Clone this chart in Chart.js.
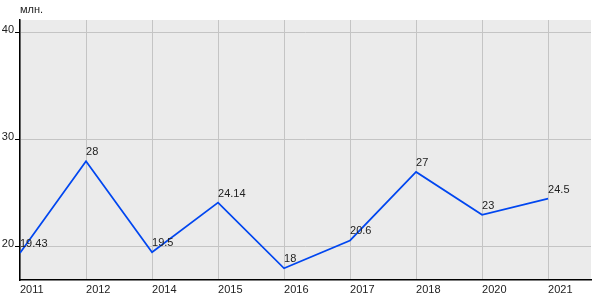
<!DOCTYPE html>
<html><head><meta charset="utf-8">
<script src="https://cdn.jsdelivr.net/npm/chart.js@4/dist/chart.umd.min.js"></script>
<style>html,body{margin:0;padding:0;background:#fff}canvas{display:block}</style>
</head><body>
<canvas id="c" width="600" height="300"></canvas>
<script>
const years = ['2011','2012','2014','2015','2016','2017','2018','2020','2021'];
const values = [19.43, 28, 19.5, 24.14, 18, 20.6, 27, 23, 24.5];
const valueLabels = ['19.43','28','19.5','24.14','18','20.6','27','23','24.5'];
const yTicks = [20, 30, 40];
const unitLabel = 'млн.';

const FONT = {family: 'Arial, "Liberation Sans", sans-serif', size: 11};

const bgPlugin = {
  id: 'bg',
  beforeDraw(chart) {
    const {ctx, chartArea: a} = chart;
    ctx.save();
    ctx.fillStyle = '#ebebeb';
    ctx.fillRect(a.left, a.top, a.right - a.left, a.bottom - a.top);
    ctx.restore();
  },
  afterDraw(chart) {
    const {ctx} = chart;
    const meta = chart.getDatasetMeta(0);
    ctx.save();
    ctx.font = '11px Arial, "Liberation Sans", sans-serif';
    ctx.fillStyle = '#222';
    ctx.textAlign = 'left';
    ctx.textBaseline = 'alphabetic';
    meta.data.forEach((pt, i) => {
      ctx.fillText(valueLabels[i], pt.x, pt.y - 6);
    });
    ctx.textBaseline = 'middle';
    ctx.fillText(unitLabel, 20, 10);
    ctx.restore();
  }
};

new Chart(document.getElementById('c'), {
  type: 'line',
  data: {
    datasets: [{
      data: values.map((v, i) => ({x: i, y: v})),
      borderColor: '#0046f0',
      borderWidth: 1.7,
      pointRadius: 0,
      tension: 0,
      fill: false
    }]
  },
  options: {
    responsive: false,
    animation: false,
    devicePixelRatio: 1,
    layout: {padding: {top: 20, right: 9, left: 0, bottom: 0}},
    plugins: {legend: {display: false}, tooltip: {enabled: false}},
    scales: {
      x: {
        type: 'linear',
        min: 0,
        max: 8.65,
        afterBuildTicks: s => { s.ticks = years.map((_, i) => ({value: i})); },
        afterFit: s => { s.height = 20; },
        ticks: {
          callback: v => years[v] ?? '',
          align: 'start',
          autoSkip: false,
          maxRotation: 0,
          padding: 3,
          color: '#222',
          font: FONT
        },
        grid: {color: '#c4c4c4', lineWidth: 1, drawTicks: false},
        border: {color: '#000', width: 1.5}
      },
      y: {
        type: 'linear',
        min: 16.9,
        max: 41.2,
        afterBuildTicks: s => { s.ticks = yTicks.map(v => ({value: v})); },
        afterFit: s => { s.width = 20; },
        ticks: {
          color: '#222',
          font: FONT,
          padding: 1,
          labelOffset: -3
        },
        grid: {color: '#c4c4c4', lineWidth: 1, tickLength: 5, tickColor: '#000'},
        border: {color: '#000', width: 1.5}
      }
    }
  },
  plugins: [bgPlugin]
});
</script>
</body></html>
